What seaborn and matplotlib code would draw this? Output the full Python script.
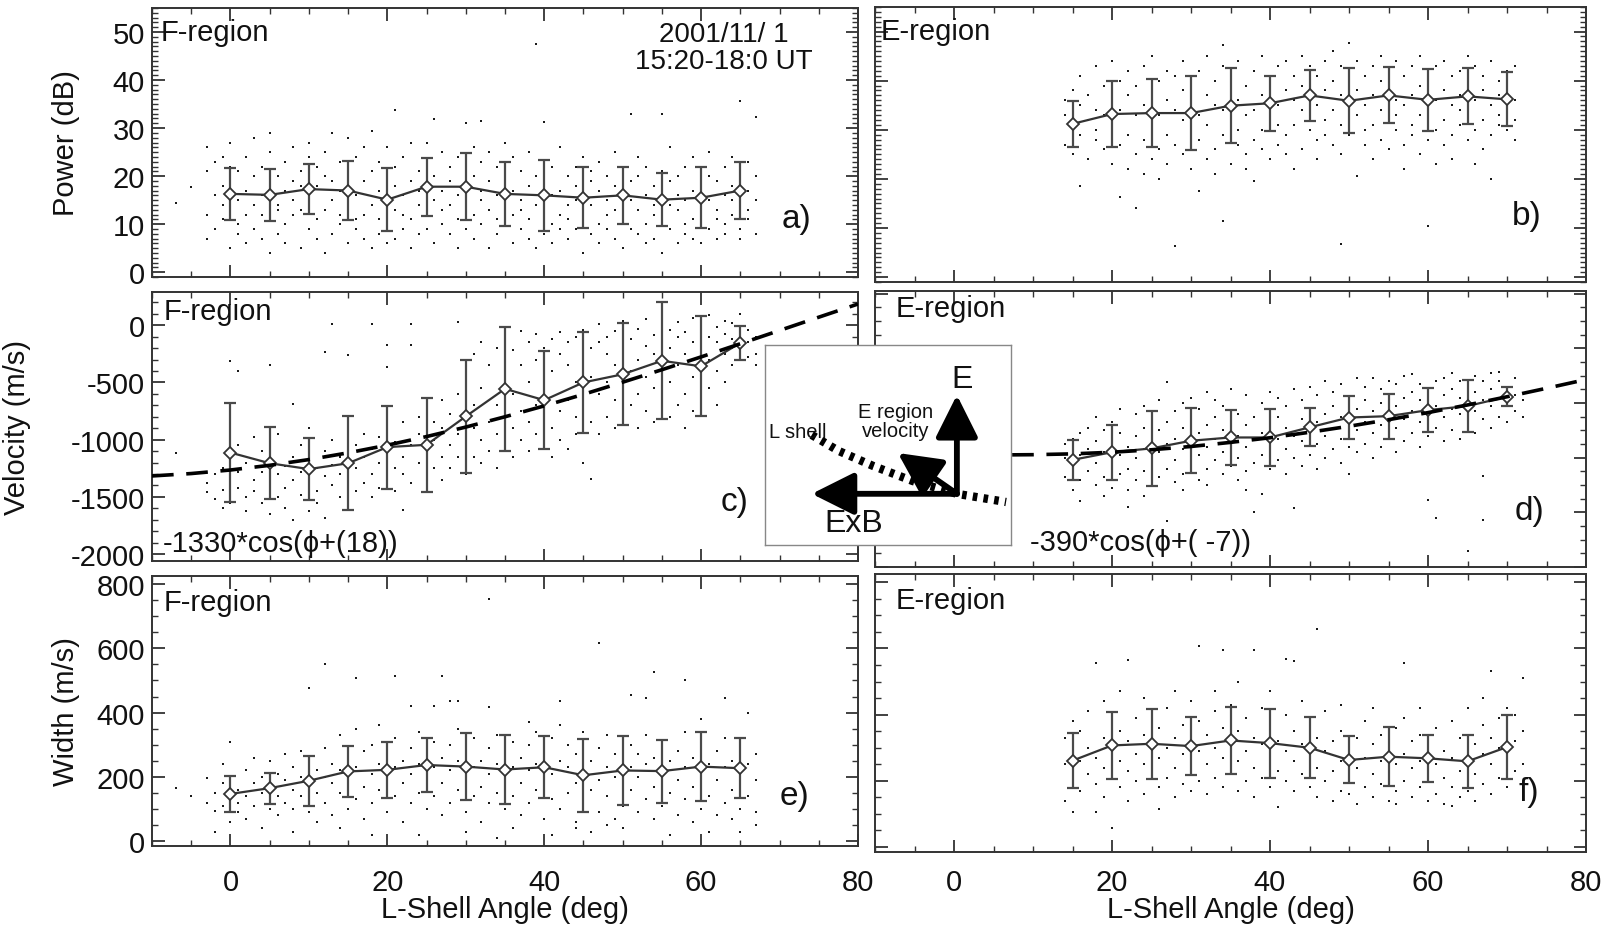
import numpy as np
import pandas as pd
import matplotlib
matplotlib.use("Agg")
import matplotlib.pyplot as plt
import seaborn as sns
from matplotlib.ticker import MultipleLocator, NullFormatter

# ---------------- data ----------------
bins_F = [0, 5, 10, 15, 20, 25, 30, 35, 40, 45, 50, 55, 60, 65]
bins_E = [15, 20, 25, 30, 35, 40, 45, 50, 55, 60, 65, 70]

a_mean = [16.3, 16.1, 17.3, 17.0, 15.1, 17.8, 17.8, 16.3, 16.0, 15.5, 16.0, 15.1, 15.5, 17.0]
a_std = [5.4, 5.4, 5.2, 6.2, 6.5, 6.0, 7.0, 6.6, 7.4, 6.4, 5.9, 5.5, 6.4, 6.0]
b_mean = [31.2, 33.2, 33.4, 33.4, 34.9, 35.4, 37.0, 35.9, 37.0, 36.1, 36.8, 36.2]
b_std = [4.7, 6.7, 6.9, 7.5, 7.6, 5.6, 5.2, 6.6, 5.7, 6.3, 5.7, 5.5]
c_mean = [-1113, -1206, -1257, -1206, -1065, -1045, -797, -556, -655, -500, -429, -311, -359, -155]
c_std = [435, 313, 272, 410, 363, 410, 494, 544, 430, 438, 446, 511, 438, 151]
d_mean = [-408, -380, -366, -338, -326, -326, -289, -253, -248, -226, -211, -177]
d_std = [73, 100, 136, 119, 99, 104, 70, 80, 82, 80, 95, 35]
e_mean = [147, 165, 188, 217, 222, 237, 232, 223, 230, 205, 220, 218, 232, 227]
e_std = [57, 48, 78, 78, 88, 83, 105, 107, 97, 113, 108, 98, 108, 93]
f_mean = [261, 307, 312, 305, 322, 314, 300, 263, 273, 268, 259, 302]
f_std = [83, 100, 106, 88, 100, 104, 92, 71, 89, 72, 80, 96]

# dashed fit curves
fit_x = [-10, -5, 0, 5, 10, 15, 20, 25, 30, 35, 40, 45, 50, 55, 60, 65, 70, 75, 80]
fit_c = [-1317, -1296, -1265, -1224, -1174, -1115, -1048, -973, -890, -800, -705, -604,
         -498, -389, -277, -162, -46, 70, 185]
fit_d = [-373, -381, -387, -390, -389, -386, -380, -371, -359, -344, -327, -307,
         -285, -261, -235, -207, -177, -146, -114]

# individual measurements: (angle, [values ...])
a_dots = [(-7, [14.5]), (-5, [17.8]), (-3, [7, 12, 21, 26]), (-2, [9, 16, 23]), (-1, [11, 18, 24, 14]),
          (0, [5, 13, 19, 22, 27]), (1, [10, 15, 21, 8]), (2, [12, 17, 24, 6]), (3, [9, 14, 20, 28]),
          (4, [7, 16, 22, 12]), (5, [4, 11, 18, 25, 29]), (6, [8, 14, 20, 13]), (7, [10, 17, 23, 6]),
          (8, [12, 19, 26, 15]), (9, [5, 13, 21, 18]), (10, [9, 16, 24, 27, 14]), (11, [11, 18, 7, 22]),
          (12, [13, 20, 25, 4]), (13, [8, 15, 19, 29]), (14, [10, 17, 23, 12]), (15, [6, 14, 21, 28, 18]),
          (16, [9, 16, 24, 11]), (17, [12, 19, 26, 7]), (18, [14, 21, 29.3, 5]), (19, [8, 17, 23, 11]),
          (20, [10, 15, 20, 26, 6]), (21, [7, 13, 18, 33.7, 22]), (22, [9, 16, 24, 12]), (23, [11, 19, 27, 5]),
          (24, [8, 14, 21, 17]), (25, [12, 18, 23, 9, 27]), (26, [6, 15, 20, 31.8]), (27, [10, 17, 25, 13]),
          (28, [8, 14, 22, 19]), (29, [11, 16, 24, 5]), (30, [9, 18, 31, 21, 13]), (31, [7, 12, 20, 26]),
          (32, [10, 15, 23, 31.5, 17]), (33, [5, 13, 19, 25]), (34, [8, 16, 22, 11]), (35, [10, 14, 20, 27, 18]),
          (36, [6, 12, 17, 24]), (37, [9, 15, 21, 13]), (38, [11, 18, 25, 7]), (39, [5, 47.6, 14, 20]),
          (40, [8, 13, 19, 31.3, 23]), (41, [10, 16, 22, 6]), (42, [12, 17, 26, 9]), (43, [7, 14, 20, 11]),
          (44, [9, 15, 22, 18]), (45, [4, 11, 16, 24, 13]), (46, [8, 14, 19, 21]), (47, [10, 17, 23, 6]),
          (48, [12, 15, 20, 9]), (49, [7, 13, 18, 25]), (50, [5, 11, 16, 22, 14]), (51, [9, 15, 33, 19]),
          (52, [8, 13, 20, 24]), (53, [10, 16, 22, 6]), (54, [7, 12, 18, 14]), (55, [4, 11, 17, 21, 32.9]),
          (56, [9, 14, 19, 26]), (57, [6, 13, 20, 16]), (58, [8, 15, 22, 10]), (59, [11, 17, 24, 7]),
          (60, [6, 12, 18, 21, 14]), (61, [9, 15, 20, 25]), (62, [7, 13, 19, 11]), (63, [10, 16, 22, 8]),
          (64, [12, 18, 24, 15]), (65, [9, 14, 20, 35.6, 7]), (66, [11, 17, 23, 13]), (67, [8, 15, 20, 32.3])]

b_dots = [(14, [27, 33, 36]), (15, [25, 31, 38, 34]), (16, [29, 35, 41, 18.6]), (17, [24, 32, 37]),
          (18, [28, 34, 43, 30]), (19, [26, 33, 39]), (20, [23, 30, 36, 44]), (21, [27, 34, 40, 16.4]),
          (22, [22, 29, 37, 42]), (23, [25, 33, 39, 14]), (24, [28, 35, 43, 21]), (25, [24, 31, 38, 45]),
          (26, [26, 33, 40, 20]), (27, [23, 29, 36, 42]), (28, [27, 34, 41, 6.3]), (29, [25, 32, 38, 44]),
          (30, [22, 30, 35, 40]), (31, [28, 33, 42, 17.6]), (32, [24, 31, 37, 45]), (33, [26, 35, 40, 21]),
          (34, [29, 34, 43, 47.2, 11.4]), (35, [23, 32, 38, 41]), (36, [27, 36, 44, 30]), (37, [25, 33, 39, 22]),
          (38, [28, 34, 42, 19.6]), (39, [30, 37, 45, 26]), (40, [24, 33, 40, 36]), (41, [27, 35, 43, 31]),
          (42, [29, 38, 44, 25]), (43, [31, 36, 41, 22]), (44, [26, 34, 39, 45]), (45, [30, 37, 43, 33]),
          (46, [28, 35, 41, 24]), (47, [32, 38, 44, 29]), (48, [27, 34, 40, 46]), (49, [25, 31, 37, 6.8, 43]),
          (50, [29, 36, 42, 47.6]), (51, [33, 38, 44, 20.6]), (52, [27, 35, 41, 30]), (53, [31, 37, 43, 24]),
          (54, [28, 34, 40, 45]), (55, [32, 38, 42, 26]), (56, [30, 36, 44, 33]), (57, [27, 35, 41, 22]),
          (58, [31, 37, 43, 29]), (59, [33, 39, 45, 25]), (60, [28, 35, 40, 10.5]), (61, [30, 36, 43, 23]),
          (62, [32, 38, 44, 27]), (63, [29, 35, 41, 24]), (64, [31, 37, 42, 34]), (65, [28, 33, 39, 45]),
          (66, [30, 36, 43, 23]), (67, [32, 38, 41, 26]), (68, [29, 35, 44, 20]), (69, [31, 37, 40, 33]),
          (70, [30, 34, 39, 42]), (71, [28, 36, 43, 32])]

c_dots = [(-7, [-1113]), (-3, [-1460, -1380]), (-2, [-1520, -1300]), (-1, [-1440, -1250, -1600]),
          (0, [-316, -1350, -1180, -1550]), (1, [-400, -1420, -1280, -1050]), (2, [-1500, -1200, -1620]),
          (3, [-1350, -980, -1450]), (4, [-1280, -1550, -1100]), (5, [-345, -1400, -1180, -1650]),
          (6, [-1300, -1500, -950]), (7, [-1420, -1230, -1600]), (8, [-689, -1350, -1150, -1700]),
          (9, [-1480, -1280, -1050]), (10, [-1380, -1620, -1200, -900]), (11, [-1450, -1250, -1550]),
          (12, [-237, -1320, -1100, -1680]), (13, [14, -1400, -1220, -1000]), (14, [-1500, -1300, -1150]),
          (15, [-260, -1350, -1600, -850]), (16, [-1250, -1450, -1050]), (17, [-1380, -1150, -950]),
          (18, [14, -1300, -1500, -1080]), (19, [-1200, -980, -1420]), (20, [-367, -175, -1100, -1350, -900]),
          (21, [-1250, -1020, -1450]), (22, [-1616, -1150, -850, -1300]), (23, [14, -175, -1050, -1380]),
          (24, [-1200, -950, -800]), (25, [-1300, -1100, -700, -1450]), (26, [-1000, -1250, -850]),
          (27, [-1150, -900, -650, -1350]), (28, [-1050, -1250, -780]), (29, [31, -950, -1150, -600]),
          (30, [-1300, -1050, -850, -450]), (31, [-1150, -900, -700, -250]), (32, [-1000, -1200, -550, -150]),
          (33, [-1100, -850, -350]), (34, [-950, -1250, -700, -200]), (35, [-1050, -800, -450, -100]),
          (36, [-1150, -900, -600, -220]), (37, [-1000, -750, -350, -50]), (38, [-1100, -850, -500, -150]),
          (39, [-950, -700, -300, -80]), (40, [-1050, -800, -550, -200]), (41, [-1150, -900, -400, -120]),
          (42, [-1000, -750, -250, -60]), (43, [-1080, -650, -350, -150]), (44, [-950, -800, -500, -100]),
          (45, [-1200, -700, -300, -40]), (46, [-1347, -850, -450, -200]), (47, [-950, -600, -150, 10]),
          (48, [-800, -500, -250, -100]), (49, [-900, -650, -350, -50]), (50, [-850, -550, -200, 40]),
          (51, [-700, -400, -120]), (52, [-900, -600, -300, -30]), (53, [-750, -450, -180, 50]),
          (54, [-850, -550, -250, -90]), (55, [-650, -400, -150, 80]), (56, [-800, -500, -200, -40]),
          (57, [-700, -350, -100, 30]), (58, [-900, -600, -250, -60]), (59, [-750, -450, -150, 60]),
          (60, [-650, -350, -200, 0]), (61, [-550, -300, -100, 90]), (62, [-700, -400, -150, -20]),
          (63, [-500, -250, -80, 40]), (64, [-350, -200, -120, 20]), (65, [-300, -180, -60, 100]),
          (66, [-280, -150, -40]), (67, [-250, -350, -100])]

d_dots = [(14, [-470, -400, -350]), (15, [-520, -430, -330]), (16, [-480, -390, -310, -560]),
          (17, [-450, -370, -290]), (18, [-500, -420, -340, -250]), (19, [-470, -380, -300, -540]),
          (20, [-510, -430, -350, -270]), (21, [-460, -390, -310, -220]), (22, [-520, -440, -360, -580]),
          (23, [-480, -400, -320, -240]), (24, [-450, -370, -290, -210, -540]), (25, [-500, -420, -340, -260]),
          (26, [-470, -380, -300, -190]), (27, [-630, -440, -350, -122, -270]), (28, [-490, -410, -330, -230]),
          (29, [-460, -370, -290, -200, -520]), (30, [-430, -350, -270, -180]), (31, [-480, -390, -310, -220]),
          (32, [-440, -360, -280, -160, -500]), (33, [-410, -330, -250, -190]), (34, [-460, -380, -300, -210]),
          (35, [-430, -350, -270, -150]), (36, [-480, -400, -320, -240]), (37, [-450, -360, -280, -170, -520]),
          (38, [-597, -420, -330, -250]), (39, [-532, -390, -310, -200]), (40, [-440, -350, -270, -160]),
          (41, [-410, -330, -250, -180]), (42, [-460, -370, -290, -210]), (43, [-585, -400, -320, -150]),
          (44, [-430, -340, -260, -190]), (45, [-390, -310, -230, -140]), (46, [-440, -350, -270, -170]),
          (47, [-400, -320, -240, -120]), (48, [-370, -290, -210, -160]), (49, [-420, -330, -250, -130]),
          (50, [-459, -360, -280, -190]), (51, [-380, -300, -220, -110]), (52, [-350, -270, -190, -140]),
          (53, [-400, -310, -230, -107]), (54, [-360, -280, -200, -150]), (55, [-330, -250, -170, -120]),
          (56, [-380, -290, -210, -130]), (57, [-340, -260, -180, -100]), (58, [-310, -230, -160, -94]),
          (59, [-360, -270, -190, -130]), (60, [-554, -320, -240, -150]), (61, [-621, -290, -210, -120]),
          (62, [-340, -250, -170, -110]), (63, [-300, -220, -150, -90]), (64, [-330, -240, -180, -120]),
          (65, [-743, -280, -200, -140]), (66, [-310, -230, -160, -100]), (67, [-627, -467, -260, -190, -120]),
          (68, [-290, -210, -150, -90]), (69, [-250, -180, -120, -86]), (70, [-270, -200, -140]),
          (71, [-230, -170, -110]), (72, [-250, -190])]

e_dots = [(-7, [165]), (-5, [142]), (-3, [197, 120]), (-2, [30, 150, 95]), (-1, [180, 110, 240]),
          (0, [60, 130, 200, 310]), (1, [90, 160, 120]), (2, [140, 220, 70]), (3, [110, 180, 260]),
          (4, [40, 150, 200]), (5, [100, 170, 250, 130]), (6, [80, 140, 210]), (7, [120, 190, 270]),
          (8, [30, 160, 230, 100]), (9, [140, 200, 280]), (10, [90, 170, 477, 250]), (11, [60, 150, 220]),
          (12, [120, 550, 200, 290]), (13, [80, 180, 240]), (14, [150, 220, 330, 40]), (15, [100, 190, 260]),
          (16, [130, 507, 230, 350]), (17, [70, 170, 280]), (18, [120, 210, 300, 20]), (19, [160, 240, 360]),
          (20, [90, 190, 270]), (21, [513, 140, 230, 320]), (22, [60, 180, 250]), (23, [420, 120, 210, 290]),
          (24, [150, 240, 340, 20]), (25, [100, 200, 270]), (26, [420, 140, 230, 310]), (27, [80, 180, 260, 515]),
          (28, [435, 120, 220, 300]), (29, [435, 160, 250, 350]), (30, [90, 190, 280, 30]), (31, [140, 230, 320]),
          (32, [60, 170, 250]), (33, [753, 417, 120, 210, 290]), (34, [10, 150, 240, 330]), (35, [100, 190, 270]),
          (36, [140, 230, 310, 40]), (37, [80, 180, 260]), (38, [120, 220, 300, 370]), (39, [160, 240, 340]),
          (40, [70, 190, 280]), (41, [130, 210, 320, 20]), (42, [437, 100, 250, 360]), (43, [150, 230, 300]),
          (44, [60, 180, 270, 40]), (45, [120, 210, 340]), (46, [160, 250, 30]), (47, [618, 90, 190, 290]),
          (48, [140, 230, 330, 50]), (49, [70, 200, 270]), (50, [110, 180, 250, 40]), (51, [455, 160, 230, 300]),
          (52, [90, 200, 270]), (53, [445, 130, 240, 330]), (54, [525, 170, 260, 70]), (55, [110, 220, 300]),
          (56, [150, 250, 20]), (57, [80, 190, 280]), (58, [500, 130, 230, 340]), (59, [170, 260, 60]),
          (60, [100, 210, 300, 380]), (61, [140, 240, 30]), (62, [80, 190, 280]), (63, [445, 120, 230, 320]),
          (64, [160, 250, 70]), (65, [100, 200, 290, 30]), (66, [400, 140, 240]), (67, [90, 190, 270, 50])]

f_dots = [(14, [140, 250, 330]), (15, [107, 200, 280, 380]), (16, [170, 260, 350]), (17, [220, 300, 410]),
          (18, [107, 190, 270, 556]), (19, [150, 240, 330, 440]), (20, [58, 210, 300, 370]),
          (21, [180, 260, 350, 470]), (22, [564, 140, 230, 320]), (23, [200, 280, 390]),
          (24, [160, 250, 340, 450]), (25, [220, 310, 400]), (26, [115, 180, 270, 360]), (27, [210, 300, 420]),
          (28, [150, 240, 330, 470]), (29, [190, 280, 370]), (30, [230, 320, 440, 170]),
          (31, [607, 200, 290, 380]), (32, [160, 250, 340]), (33, [210, 300, 410, 470]),
          (34, [595, 180, 270, 360]), (35, [230, 320, 430]), (36, [170, 260, 350, 500]), (37, [200, 290, 390]),
          (38, [595, 150, 240, 330]), (39, [210, 310, 420]), (40, [180, 270, 360, 470]), (41, [120, 230, 320]),
          (42, [568, 200, 290, 400]), (43, [561, 170, 260, 350]), (44, [220, 310, 440]), (45, [180, 270, 380]),
          (46, [659, 150, 240, 330]), (47, [200, 290, 410]), (48, [140, 230, 320]), (49, [170, 260, 350, 430]),
          (50, [160, 210, 290]), (51, [130, 240, 330]), (52, [180, 270, 380]), (53, [150, 220, 310, 420]),
          (54, [190, 260, 340]), (55, [140, 230, 300]), (56, [170, 250, 360, 130]), (57, [556, 200, 280, 390]),
          (58, [150, 240, 320]), (59, [180, 260, 340, 420]), (60, [140, 220, 310]), (61, [160, 250, 360]),
          (62, [130, 210, 290]), (63, [125, 180, 270, 380]), (64, [150, 230, 330]), (65, [170, 260, 340, 420]),
          (66, [140, 220, 310]), (67, [190, 280, 370, 450]), (68, [532, 160, 250, 330]), (69, [210, 300, 390]),
          (70, [180, 270, 360, 420]), (71, [230, 320, 400]), (72, [512, 250, 350])]

x_ticks = [0, 20, 40, 60, 80]
panel_letters = ["a)", "b)", "c)", "d)", "e)", "f)"]
date_text = "2001/11/ 1\n15:20-18:0 UT"
fit_c_label = "-1330*cos(\u03d5+(18))"
fit_d_label = "-390*cos(\u03d5+( -7))"

# ---------------- style ----------------
sns.set_theme(style="ticks")
FONTS = ["Liberation Sans", "DejaVu Sans"]
plt.rcParams["font.family"] = FONTS
plt.rcParams["axes.edgecolor"] = "#333333"
plt.rcParams["axes.linewidth"] = 1.4

FS = 21
fig = plt.figure(figsize=(16.1, 9.28), dpi=100)
fig.patch.set_facecolor("white")

W_PX, H_PX = 1610.0, 928.0
def box(l, t, r, b):
    return [l / W_PX, 1 - b / H_PX, (r - l) / W_PX, (b - t) / H_PX]

ax_a = fig.add_axes(box(152, 9, 858, 278))
ax_b = fig.add_axes(box(875, 8, 1586, 283))
ax_c = fig.add_axes(box(152, 293, 858, 562))
ax_d = fig.add_axes(box(875, 292, 1586, 568))
ax_e = fig.add_axes(box(152, 577, 858, 847))
ax_f = fig.add_axes(box(875, 575, 1586, 853))


def dots_frame(cols):
    xs, ys = [], []
    for x, vals in cols:
        for v in vals:
            xs.append(x)
            ys.append(v)
    return pd.DataFrame({"angle": xs, "value": ys})


def draw_panel(ax, dots, bins, mean, std, ylim, major, minor):
    df = dots_frame(dots)
    sns.scatterplot(data=df, x="angle", y="value", ax=ax, s=4.5, marker="s",
                    color="#1a1a1a", linewidth=0, legend=False, zorder=2)
    ax.errorbar(bins, mean, yerr=std, fmt="none", ecolor="#4a4a4a",
                elinewidth=1.6, capsize=4, capthick=1.6, zorder=3)
    mdf = pd.DataFrame({"angle": bins, "value": mean})
    sns.lineplot(data=mdf, x="angle", y="value", ax=ax, color="#333333", lw=1.6,
                 marker="D", markersize=6.5, markerfacecolor="white",
                 markeredgecolor="#333333", markeredgewidth=1.3, zorder=4)
    ax.set_xlim(-10, 80)
    ax.set_ylim(*ylim)
    ax.xaxis.set_major_locator(plt.FixedLocator(x_ticks))
    ax.xaxis.set_minor_locator(MultipleLocator(5))
    ax.yaxis.set_major_locator(MultipleLocator(major))
    ax.yaxis.set_minor_locator(MultipleLocator(minor))
    ax.tick_params(which="both", direction="in", top=True, right=True,
                   colors="#333333", labelcolor="#111111")
    ax.tick_params(which="major", length=9, width=1.3, labelsize=FS)
    ax.tick_params(which="minor", length=4.5, width=1.0)
    ax.set_xlabel("")
    ax.set_ylabel("")
    ax.xaxis.set_major_formatter(NullFormatter())


draw_panel(ax_a, a_dots, bins_F, a_mean, a_std, (-1, 55), 10, 1)
draw_panel(ax_b, b_dots, bins_E, b_mean, b_std, (-1, 55), 10, 1)
draw_panel(ax_c, c_dots, bins_F, c_mean, c_std, (-2060, 290), 500, 100)
draw_panel(ax_d, d_dots, bins_E, d_mean, d_std, (-800, 210), 200, 50)
draw_panel(ax_e, e_dots, bins_F, e_mean, e_std, (-15, 825), 200, 50)
draw_panel(ax_f, f_dots, bins_E, f_mean, f_std, (-15, 825), 200, 50)

# dashed fits
sns.lineplot(x=fit_x, y=fit_c, ax=ax_c, color="black", lw=2.6, zorder=5,
             linestyle=(0, (6, 3.5)))
sns.lineplot(x=fit_x, y=fit_d, ax=ax_d, color="black", lw=2.6, zorder=5,
             linestyle=(0, (6, 3.5)))

# y tick labels only on the left column
for ax in (ax_b, ax_d, ax_f):
    ax.yaxis.set_major_formatter(NullFormatter())
ax_c.set_yticks([0, -500, -1000, -1500, -2000])
ax_c.set_yticklabels(["0", "-500", "-1000", "-1500", "-2000"])
for ax in (ax_a, ax_c, ax_e):
    ax.tick_params(axis="y", which="major", pad=5)

# x tick labels on bottom row
for ax, pad, ly in ((ax_e, 16, -0.182), (ax_f, 11.5, -0.155)):
    ax.xaxis.set_major_formatter(plt.FuncFormatter(lambda v, p: f"{int(v)}"))
    ax.tick_params(axis="x", which="major", pad=pad, labelsize=FS)
    ax.set_xlabel("L-Shell Angle (deg)", fontsize=FS, color="#111111")
    ax.xaxis.set_label_coords(0.5, ly)

ax_a.set_ylabel("Power (dB)", fontsize=FS, color="#111111")
ax_a.yaxis.set_label_coords(-0.102, 0.5)
ax_c.set_ylabel("Velocity (m/s)", fontsize=FS, color="#111111")
ax_c.yaxis.set_label_coords(-0.171, 0.5)
ax_e.set_ylabel("Width (m/s)", fontsize=FS, color="#111111")
ax_e.yaxis.set_label_coords(-0.102, 0.5)

# annotations
TXT = dict(fontsize=FS, color="#111111")
ax_a.text(0.012, 0.912, "F-region", transform=ax_a.transAxes, va="center", ha="left", **TXT)
ax_b.text(0.008, 0.914, "E-region", transform=ax_b.transAxes, va="center", ha="left", **TXT)
ax_c.text(0.017, 0.93, "F-region", transform=ax_c.transAxes, va="center", ha="left", **TXT)
ax_d.text(0.029, 0.94, "E-region", transform=ax_d.transAxes, va="center", ha="left", **TXT)
ax_e.text(0.017, 0.905, "F-region", transform=ax_e.transAxes, va="center", ha="left", **TXT)
ax_f.text(0.029, 0.907, "E-region", transform=ax_f.transAxes, va="center", ha="left", **TXT)

ax_a.text(0.81, 0.855, date_text, transform=ax_a.transAxes, va="center", ha="center",
          linespacing=1.05, fontsize=20, color="#111111")

letter_pos = [(ax_a, 0.913, 0.218), (ax_b, 0.916, 0.24), (ax_c, 0.825, 0.22),
              (ax_d, 0.92, 0.205), (ax_e, 0.91, 0.186), (ax_f, 0.92, 0.216)]
for (ax, x, y), lab in zip(letter_pos, panel_letters):
    ax.text(x, y, lab, transform=ax.transAxes, va="center", ha="center", fontsize=24, color="#111111")

ax_c.text(0.015, 0.068, fit_c_label, transform=ax_c.transAxes, va="center", ha="left", **TXT)
ax_d.text(0.218, 0.09, fit_d_label, transform=ax_d.transAxes, va="center", ha="left", **TXT)

# ---------------- inset diagram ----------------
ins = fig.add_axes(box(765, 346, 1011, 546))
ins.set_xlim(0, 1)
ins.set_ylim(0, 1)
ins.set_xticks([])
ins.set_yticks([])
ins.set_facecolor("white")
for s in ins.spines.values():
    s.set_color("#888888")
    s.set_linewidth(1.0)
ins.set_zorder(10)

shell_x = [0.19, 0.30, 0.44, 0.60, 0.78, 0.98]
shell_y = [0.55, 0.47, 0.395, 0.32, 0.256, 0.215]
ins.plot(shell_x, shell_y, color="black", lw=6, linestyle=(0, (0.55, 0.75)))
origin = (0.78, 0.256)
arrow = dict(arrowstyle="-|>,head_length=1.0,head_width=0.5", lw=4.2, color="black",
             shrinkA=0, shrinkB=0, mutation_scale=26)
ins.annotate("", xy=(0.78, 0.75), xytext=origin, arrowprops=arrow)
ins.annotate("", xy=(0.19, 0.256), xytext=origin, arrowprops=arrow)
ins.annotate("", xy=(0.54, 0.46), xytext=origin, arrowprops=arrow)
ins.text(0.80, 0.83, "E", ha="center", va="center", fontsize=23, color="#111111")
ins.text(0.53, 0.62, "E region\nvelocity", ha="center", va="center", fontsize=14.5,
         linespacing=1.05, color="#111111")
ins.text(0.015, 0.565, "L shell", ha="left", va="center", fontsize=14.5, color="#111111")
ins.text(0.36, 0.11, "ExB", ha="center", va="center", fontsize=23, color="#111111")

fig.savefig("out.png", dpi=100, facecolor="white")
